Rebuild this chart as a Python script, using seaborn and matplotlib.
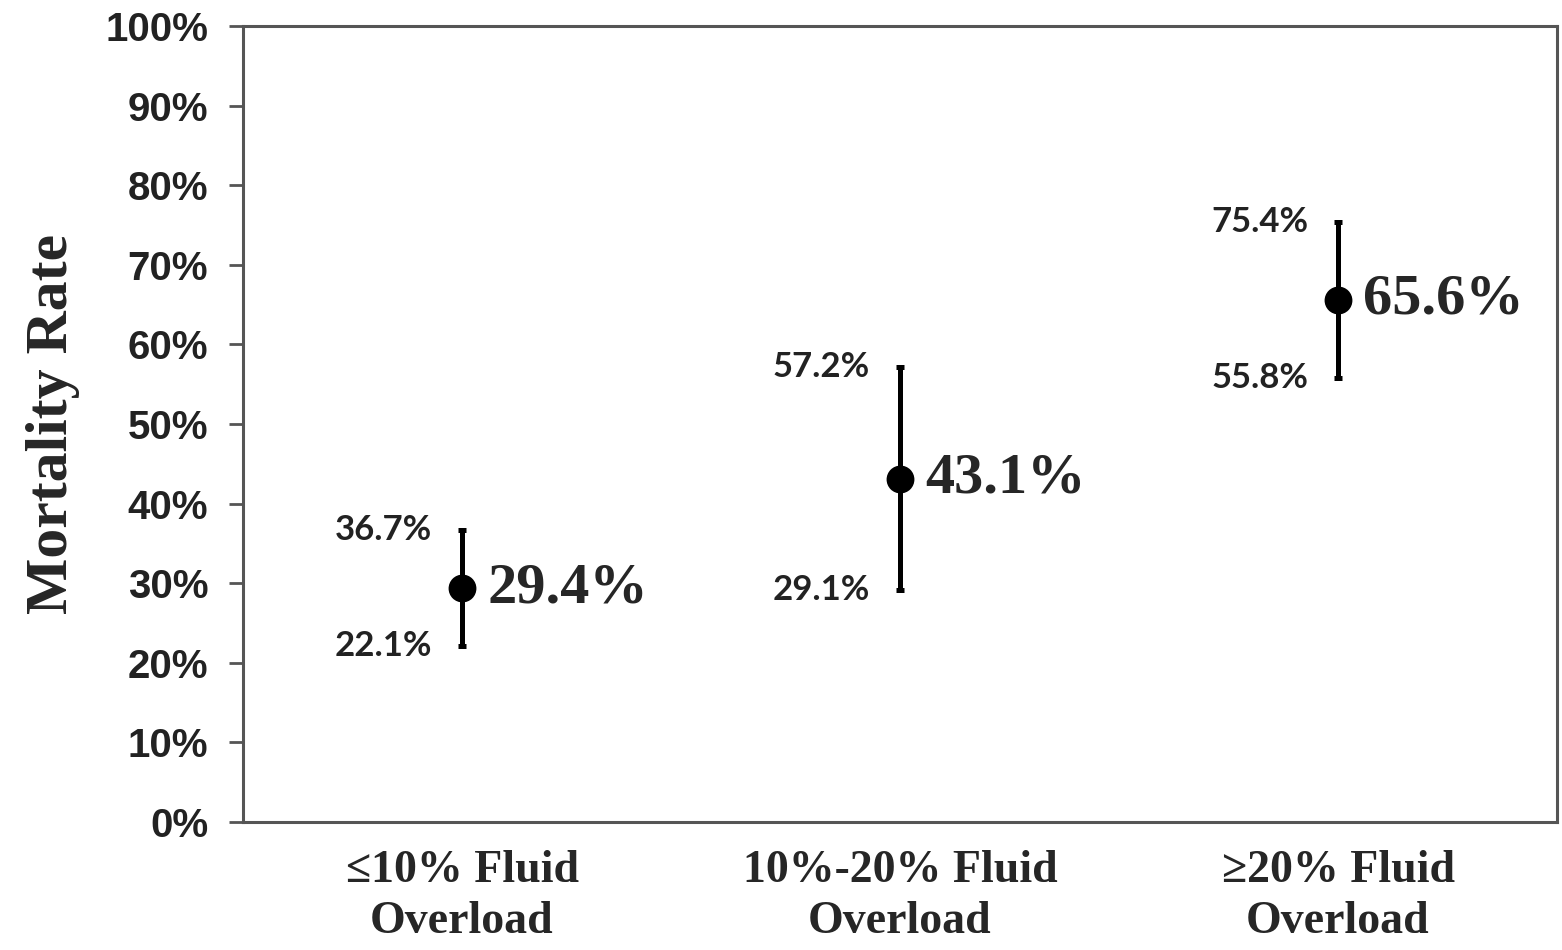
import matplotlib
matplotlib.use("Agg")
import matplotlib.pyplot as plt
import seaborn as sns
import pandas as pd

# values
groups = ["\u226410% Fluid\nOverload", "10%-20% Fluid\nOverload", "\u226520% Fluid\nOverload"]
mortality = [29.4, 43.1, 65.6]
ci_low = [22.1, 29.1, 55.8]
ci_high = [36.7, 57.2, 75.4]
y_ticks = list(range(0, 101, 10))

df = pd.DataFrame({"group": groups, "mortality": mortality,
                   "low": ci_low, "high": ci_high})

sns.set_style("white")

fig = plt.figure(figsize=(15.62, 9.5), dpi=100)
ax = fig.add_axes([0.1556, 0.1347, 0.8412, 0.8379])

sns.pointplot(data=df, x="group", y="mortality", order=groups, errorbar=None,
              linestyle="none", color="black", markers="o", markersize=18, ax=ax)

# confidence intervals
xs = range(len(groups))
ax.errorbar(list(xs), df["mortality"],
            yerr=[df["mortality"] - df["low"], df["high"] - df["mortality"]],
            fmt="none", ecolor="black", elinewidth=3.6, capsize=3, capthick=3.6, zorder=2)

for i, row in df.iterrows():
    ax.text(i + 0.058, row["mortality"], f"{row['mortality']:.1f}%",
            ha="left", va="center", fontsize=42, fontweight="bold",
            family="Liberation Serif")
    ax.text(i - 0.068, row["high"], f"{row['high']:.1f}%", ha="right", va="center",
            fontsize=25, fontweight="bold", family="Lato", color="#222222")
    ax.text(i - 0.068, row["low"], f"{row['low']:.1f}%", ha="right", va="center",
            fontsize=25, fontweight="bold", family="Lato", color="#222222")

ax.set_xlim(-0.5, 2.5)
ax.set_ylim(0, 100)
ax.set_yticks(y_ticks)
ax.set_yticklabels([f"{t}%" for t in y_ticks], fontsize=29, fontweight="bold",
                   family="Liberation Sans", color="#222222")
ax.set_xticks(list(xs))
ax.set_xticklabels(groups, fontsize=33, fontweight="bold", family="Liberation Serif",
                   linespacing=1.3)
ax.tick_params(axis="y", direction="out", length=10, width=2, color="#555555",
               left=True, pad=15)
ax.tick_params(axis="x", length=0, pad=20)

ax.set_xlabel("")
ax.set_ylabel("Mortality Rate", fontsize=43, fontweight="bold",
              family="Liberation Serif", labelpad=18)

for s in ax.spines.values():
    s.set_color("#555555")
    s.set_linewidth(2.2)

fig.savefig("out.png", dpi=100)
